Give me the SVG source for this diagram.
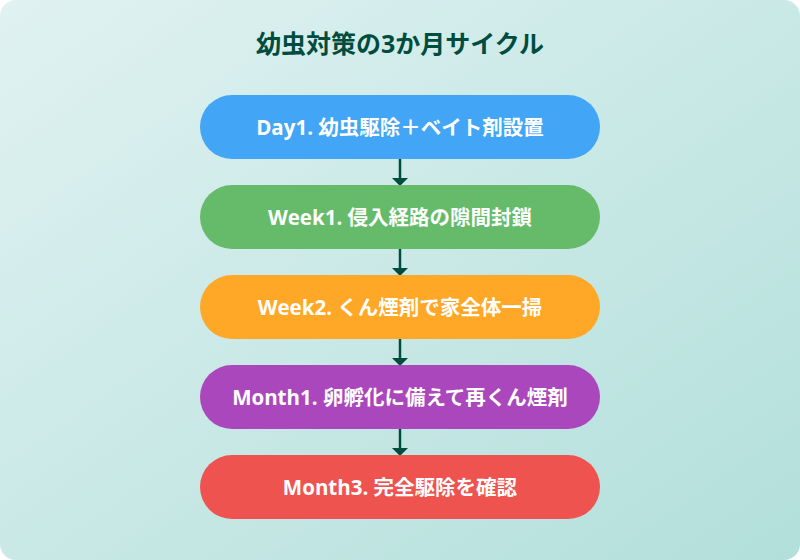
<svg xmlns="http://www.w3.org/2000/svg" width="800" height="560" viewBox="0 0 800 560">
<defs>
<linearGradient id="bg" x1="0" y1="0" x2="1" y2="1">
<stop offset="0" stop-color="#e0f2f1"/>
<stop offset="1" stop-color="#b2dfdb"/>
</linearGradient>
<style>
.title{font-family:"Open Sans","Noto Sans CJK JP",sans-serif;font-weight:700;font-size:25px;fill:#004d40;text-anchor:middle}
.lbl{font-family:"Open Sans","Noto Sans CJK JP",sans-serif;font-weight:700;font-size:20.5px;fill:#ffffff;text-anchor:middle}
.conn line{stroke:#004d40;stroke-width:2.5}
.conn path{fill:#004d40}
</style>
</defs>
<rect x="0" y="0" width="800" height="560" rx="16" fill="url(#bg)"/>
<text class="title" x="400" y="53">幼虫対策の3か月サイクル</text>
<g id="connectors" class="conn">
<line x1="400" y1="159" x2="400" y2="180"/><path d="M392,178 L408,178 L400,186 Z"/>
<line x1="400" y1="249" x2="400" y2="270"/><path d="M392,268 L408,268 L400,276 Z"/>
<line x1="400" y1="339" x2="400" y2="360"/><path d="M392,358 L408,358 L400,366 Z"/>
<line x1="400" y1="429" x2="400" y2="450"/><path d="M392,448 L408,448 L400,456 Z"/>
</g>
<g id="node1"><rect x="200" y="95" width="400" height="64" rx="32" fill="#42a5f5"/><text class="lbl" x="400" y="134.5">Day1. 幼虫駆除＋ベイト剤設置</text></g>
<g id="node2"><rect x="200" y="185" width="400" height="64" rx="32" fill="#66bb6a"/><text class="lbl" x="400" y="224.5">Week1. 侵入経路の隙間封鎖</text></g>
<g id="node3"><rect x="200" y="275" width="400" height="64" rx="32" fill="#ffa726"/><text class="lbl" x="400" y="314.5">Week2. くん煙剤で家全体一掃</text></g>
<g id="node4"><rect x="200" y="365" width="400" height="64" rx="32" fill="#ab47bc"/><text class="lbl" x="400" y="404.5">Month1. 卵孵化に備えて再くん煙剤</text></g>
<g id="node5"><rect x="200" y="455" width="400" height="64" rx="32" fill="#ef5350"/><text class="lbl" x="400" y="494.5">Month3. 完全駆除を確認</text></g>
</svg>
